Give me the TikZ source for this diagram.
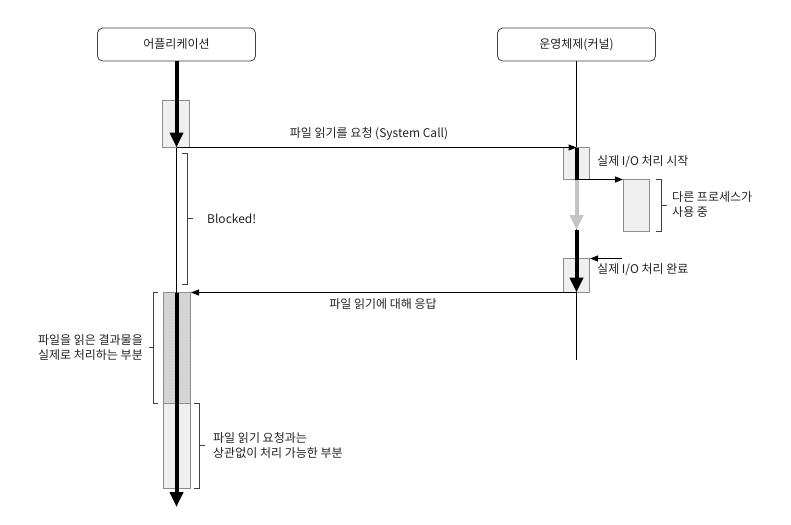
\documentclass[tikz,border=0pt]{standalone}
\usepackage{fontspec}
\setmainfont{Noto Sans CJK KR}
\usetikzlibrary{arrows.meta,patterns}
\definecolor{txt}{HTML}{222222}
\definecolor{boxline}{HTML}{8C8C8C}
\definecolor{lightfill}{HTML}{EFEFEF}
\definecolor{darkfill}{HTML}{D6D6D6}
\definecolor{grayarrow}{HTML}{C4C4C4}
\tikzset{
  actor/.style={draw=black!75, rounded corners=5pt, fill=white, minimum width=158pt, minimum height=33pt, inner sep=0pt, line width=0.8pt, font=\fontsize{12}{14}\selectfont, text=txt},
  actbox/.style={draw=boxline, fill=lightfill, line width=0.7pt, inner sep=0pt},
  darkbox/.style={draw=boxline, fill=darkfill, line width=0.7pt, inner sep=0pt},
  lbl/.style={font=\fontsize{12}{15}\selectfont, text=txt, inner sep=0pt},
  lifeln/.style={line width=1pt, draw=black},
  heavyln/.style={line width=4pt, draw=black},
  msg/.style={line width=1pt, draw=black, -{Triangle[length=8pt,width=6pt]}},
  bigtip/.style={-{Triangle[length=15pt,width=13pt]}},
  brk/.style={line width=1pt, draw=black!75}
}
\begin{document}
\begin{tikzpicture}[x=1pt,y=-1pt]
\useasboundingbox (0,0) rectangle (791,524);
% actors
\node[actor] (app) at (176.5,44.5) {어플리케이션};
\node[actor] (os) at (576.5,44.5) {운영체제(커널)};
% OS lifeline
\coordinate (osend) at (576.5,360);
\draw[lifeln] (os.south) -- (osend);
% app boxes
\draw[actbox] (162.5,100.5) rectangle (189.5,147.5);
\draw[darkbox] (163.5,292.5) rectangle (190.5,403.5);
\fill[pattern=dots, pattern color=black!25] (163.5,292.5) rectangle (190.5,403.5);
\draw[actbox] (163.5,403.5) rectangle (190.5,488.5);
% os boxes
\draw[actbox] (563.5,147.5) rectangle (589.5,179.5);
\draw[actbox] (563.5,258.5) rectangle (589.5,292.5);
\draw[actbox] (623.5,179.5) rectangle (649.5,231.5);
% named points
\coordinate (a1) at (176.5,147.5);
\coordinate (a2) at (176.5,292.5);
\coordinate (a3) at (176.5,507);
\coordinate (o1) at (576.5,147.5);
\coordinate (o2) at (576.5,179.5);
\coordinate (o3) at (576.5,230);
\coordinate (o4) at (576.5,292.5);
\coordinate (p1) at (623,179.5);
\coordinate (in1) at (622,258.5);
\coordinate (in2) at (590,258.5);
\coordinate (ret) at (191,292.5);
% app thread
\draw[heavyln, bigtip] (app.south) -- (a1);
\draw[lifeln] (a1) -- (a2);
\draw[heavyln, bigtip] (a2) -- (a3);
% os thread
\draw[heavyln] (o1) -- (o2);
\draw[line width=4pt, draw=grayarrow, -{Triangle[length=15pt,width=13pt,fill=grayarrow]}, color=grayarrow] (o2) -- (o3);
\draw[heavyln, bigtip] (o3) -- (o4);
% messages
\draw[msg] (a1) -- (o1);
\draw[msg] (o2) -- (p1);
\draw[msg] (in1) -- (in2);
\draw[msg] (o4) -- (ret);
\node[lbl] (m1) at (369,134) {파일 읽기를 요청 (System Call)};
\node[lbl] (m2) at (383,304) {파일 읽기에 대해 응답};
\node[lbl, anchor=west] (l1) at (597,162) {실제 I/O 처리 시작};
\node[lbl, anchor=west] (l2) at (597,270) {실제 I/O 처리 완료};
% brackets
\draw[brk] (182,153.5) -- (187.5,153.5) -- (187.5,284.5) -- (182,284.5);
\draw[brk] (187.5,218.5) -- (192.5,218.5);
\node[lbl, anchor=west] (blk) at (207,218.5) {Blocked!};
\draw[brk] (656,179.5) -- (661.5,179.5) -- (661.5,231.5) -- (656,231.5);
\draw[brk] (661.5,205.5) -- (666.5,205.5);
\node[lbl, anchor=west, align=left] (oth) at (672,205) {다른 프로세스가\\사용 중};
\draw[brk] (158,292.5) -- (153.5,292.5) -- (153.5,403.5) -- (158,403.5);
\draw[brk] (153.5,347.5) -- (148.5,347.5);
\node[lbl, anchor=east, align=left] (proc) at (143,348) {파일을 읽은 결과물을\\실제로 처리하는 부분};
\draw[brk] (194,403.5) -- (199.5,403.5) -- (199.5,488.5) -- (194,488.5);
\draw[brk] (199.5,445.5) -- (204.5,445.5);
\node[lbl, anchor=west, align=left] (ind) at (213,445.5) {파일 읽기 요청과는\\상관없이 처리 가능한 부분};
\end{tikzpicture}
\end{document}
